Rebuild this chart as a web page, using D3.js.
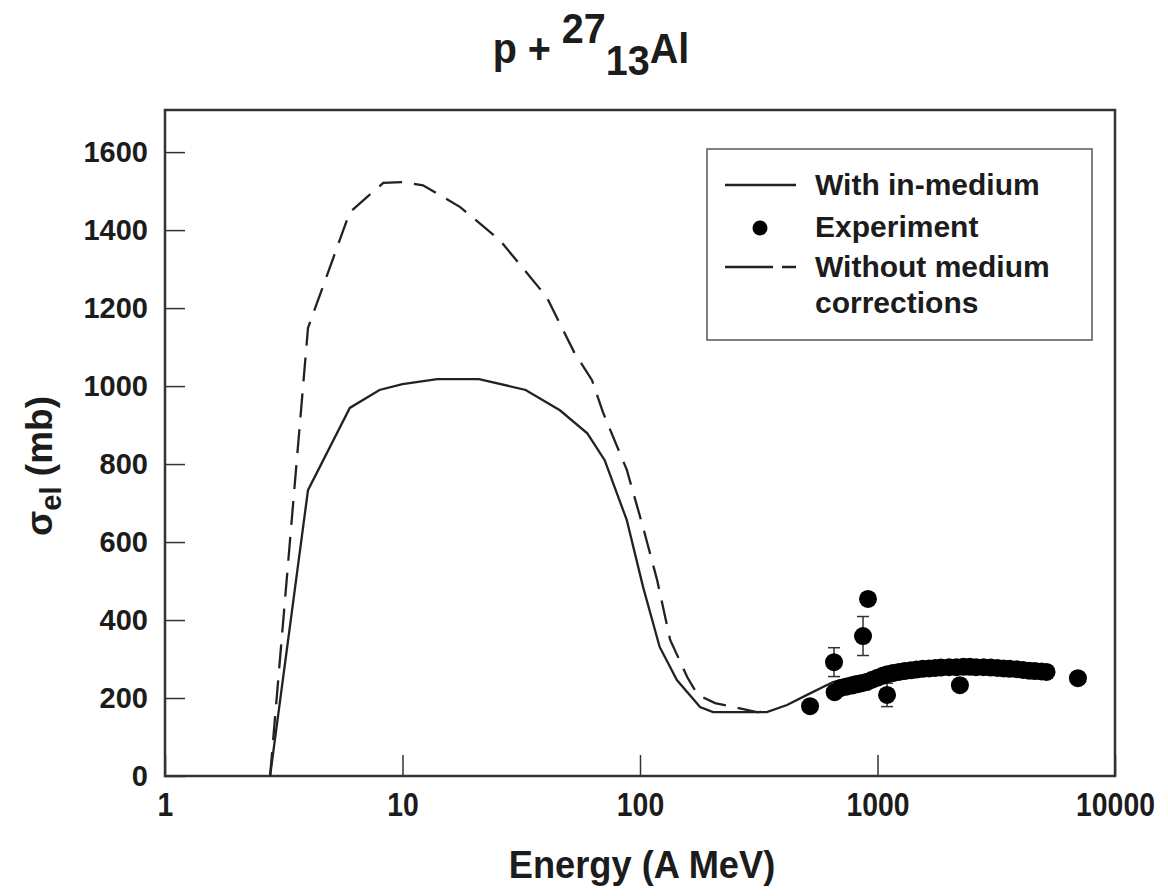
<!DOCTYPE html>
<html>
<head>
<meta charset="utf-8">
<script src="https://cdn.jsdelivr.net/npm/d3@7/dist/d3.min.js"></script>
<style>
  body { margin: 0; background: #fff; }
  text { font-family: "Liberation Sans", Arial, sans-serif; font-weight: bold; fill: #1c1c1c; }
</style>
</head>
<body>
<svg id="chart" width="1168" height="896"></svg>
<script>
// Data
const X_TICKS = [1, 10, 100, 1000, 10000];
const Y_TICKS = [0, 200, 400, 600, 800, 1000, 1200, 1400, 1600];

// with in-medium corrections (solid)
const energyWith = [2.77, 4, 6, 8, 10, 14, 21, 33, 46, 60, 71, 88, 103, 121, 143, 179, 203, 342, 416, 505, 650, 800, 1000, 1500, 2000, 3000, 4000, 5000];
const sigmaWith  = [0, 733, 944, 990, 1005, 1018, 1018, 990, 938, 879, 810, 656, 485, 331, 246, 177, 164, 164, 182, 208, 241, 255, 265, 276, 280, 279, 274, 268];

// without medium corrections (dashed)
const energyWithout = [2.77, 4, 6, 8.3, 10, 12.2, 17.5, 25.7, 40.5, 53, 62.8, 69.8, 88, 103, 118, 134, 158, 175, 207, 311, 350];
const sigmaWithout  = [0, 1149, 1446, 1521, 1523, 1515, 1459, 1374, 1228, 1085, 1015, 933, 785, 638, 503, 349, 254, 208, 187, 164, 165];

// experiment, isolated points with error bars
const expEnergy = [520, 656, 660, 869, 912, 1097, 2223, 6980];
const expSigma  = [179, 292, 215, 359, 454, 208, 233, 251];
const expError  = [0, 37, 0, 50, 0, 30, 0, 0];

// experiment, dense band
const bandEnergy = [700, 740, 780, 820, 860, 900, 950, 1000, 1050, 1100, 1160, 1230, 1300, 1380, 1460, 1550, 1650, 1750, 1850, 2000, 2150, 2300, 2450, 2600, 2800, 3000, 3200, 3400, 3600, 3860, 4100, 4350, 4600, 4900, 5150];
const bandSigma  = [226, 229, 232, 235, 238, 241, 247, 252, 257, 261, 264, 267, 269, 271, 273, 275, 276, 277, 278, 279, 279, 280, 280, 279, 279, 278, 277, 276, 275, 274, 272, 270, 269, 268, 267];

const svg = d3.select("#chart");

const x = d3.scaleLog().domain([1, 10000]).range([165, 1115]);
const y = d3.scaleLinear().domain([0, 1708]).range([776, 110]);

// title (narrow look)
const title = svg.append("text")
	.attr("transform", "translate(591,63) scale(0.92,1)")
	.attr("text-anchor", "middle")
	.attr("font-size", 43);
title.append("tspan").text("p + ");
title.append("tspan").attr("dy", -20).text("27");
title.append("tspan").attr("dy", 32).text("13");
title.append("tspan").attr("dy", -12).text("Al");

// axes
const yAxis = svg.append("g")
	.attr("transform", "translate(" + x(1) + ",0)")
	.call(d3.axisLeft(y).tickValues(Y_TICKS).tickSize(-20).tickPadding(17).tickFormat(d3.format("d")));
yAxis.select(".domain").remove();
yAxis.selectAll("line").attr("stroke", "#333").attr("stroke-width", 1.5);
yAxis.selectAll("text").attr("font-size", 29).attr("fill", "#1c1c1c");

const xAxis = svg.append("g")
	.attr("transform", "translate(0," + y(0) + ")")
	.call(d3.axisBottom(x).tickValues(X_TICKS).tickSize(-21).tickPadding(17).tickFormat(d => d));
xAxis.select(".domain").remove();
xAxis.selectAll("line").attr("stroke", "#333").attr("stroke-width", 1.5);
xAxis.selectAll("text")
	.attr("font-size", 33)
	.attr("transform", "scale(0.86,1)")
	.attr("fill", "#1c1c1c");

// plot frame
svg.append("rect")
	.attr("x", x(1))
	.attr("y", y(1708))
	.attr("width", x(10000) - x(1))
	.attr("height", y(0) - y(1708))
	.attr("fill", "none")
	.attr("stroke", "#333")
	.attr("stroke-width", 2.5);

// axis titles
svg.append("text")
	.attr("transform", "translate(642,878) scale(0.93,1)")
	.attr("text-anchor", "middle")
	.attr("font-size", 39)
	.text("Energy (A MeV)");

const yLabel = svg.append("text")
	.attr("transform", "translate(52,466) rotate(-90)")
	.attr("text-anchor", "middle")
	.attr("font-size", 37);
yLabel.append("tspan").text("σ");
yLabel.append("tspan").attr("dy", 9).attr("font-size", 29).text("el");
yLabel.append("tspan").attr("dy", -9).text(" (mb)");

// curves
const line = d3.line().x(d => x(d[0])).y(d => y(d[1]));

svg.append("path")
	.datum(energyWithout.map((e, i) => [e, sigmaWithout[i]]))
	.attr("d", line)
	.attr("fill", "none")
	.attr("stroke", "#222")
	.attr("stroke-width", 2.3)
	.attr("stroke-dasharray", "24,12");

svg.append("path")
	.datum(energyWith.map((e, i) => [e, sigmaWith[i]]))
	.attr("d", line)
	.attr("fill", "none")
	.attr("stroke", "#222")
	.attr("stroke-width", 2.3);

// experiment
const expData = expEnergy.map((e, i) => ({ e: e, s: expSigma[i], err: expError[i] }));
const bars = svg.append("g").attr("stroke", "#333").attr("stroke-width", 1.5);
expData.filter(d => d.err > 0).forEach(function (d) {
	bars.append("line").attr("x1", x(d.e)).attr("x2", x(d.e)).attr("y1", y(d.s - d.err)).attr("y2", y(d.s + d.err));
	bars.append("line").attr("x1", x(d.e) - 6).attr("x2", x(d.e) + 6).attr("y1", y(d.s + d.err)).attr("y2", y(d.s + d.err));
	bars.append("line").attr("x1", x(d.e) - 6).attr("x2", x(d.e) + 6).attr("y1", y(d.s - d.err)).attr("y2", y(d.s - d.err));
});

svg.append("g").selectAll("circle")
	.data(expData.concat(bandEnergy.map((e, i) => ({ e: e, s: bandSigma[i], err: 0 }))))
	.enter().append("circle")
	.attr("cx", d => x(d.e))
	.attr("cy", d => y(d.s))
	.attr("r", 9)
	.attr("fill", "#000");

// legend
const legend = svg.append("g");
legend.append("rect")
	.attr("x", 707).attr("y", 149)
	.attr("width", 385).attr("height", 191)
	.attr("fill", "#fff")
	.attr("stroke", "#555")
	.attr("stroke-width", 1.5);
legend.append("line")
	.attr("x1", 725).attr("x2", 796).attr("y1", 185).attr("y2", 185)
	.attr("stroke", "#222").attr("stroke-width", 2.5);
legend.append("circle")
	.attr("cx", 760).attr("cy", 228).attr("r", 7.5).attr("fill", "#000");
legend.append("line")
	.attr("x1", 725).attr("x2", 796).attr("y1", 267).attr("y2", 267)
	.attr("stroke", "#222").attr("stroke-width", 2.5)
	.attr("stroke-dasharray", "48,9,14");
const legendText = ["With in-medium", "Experiment", "Without medium", "corrections"];
const legendY = [195, 237, 277, 313];
legend.selectAll(".lt")
	.data(legendText)
	.enter().append("text")
	.attr("class", "lt")
	.attr("x", 815)
	.attr("y", (d, i) => legendY[i])
	.attr("font-size", 30)
	.text(d => d);
</script>
</body>
</html>
